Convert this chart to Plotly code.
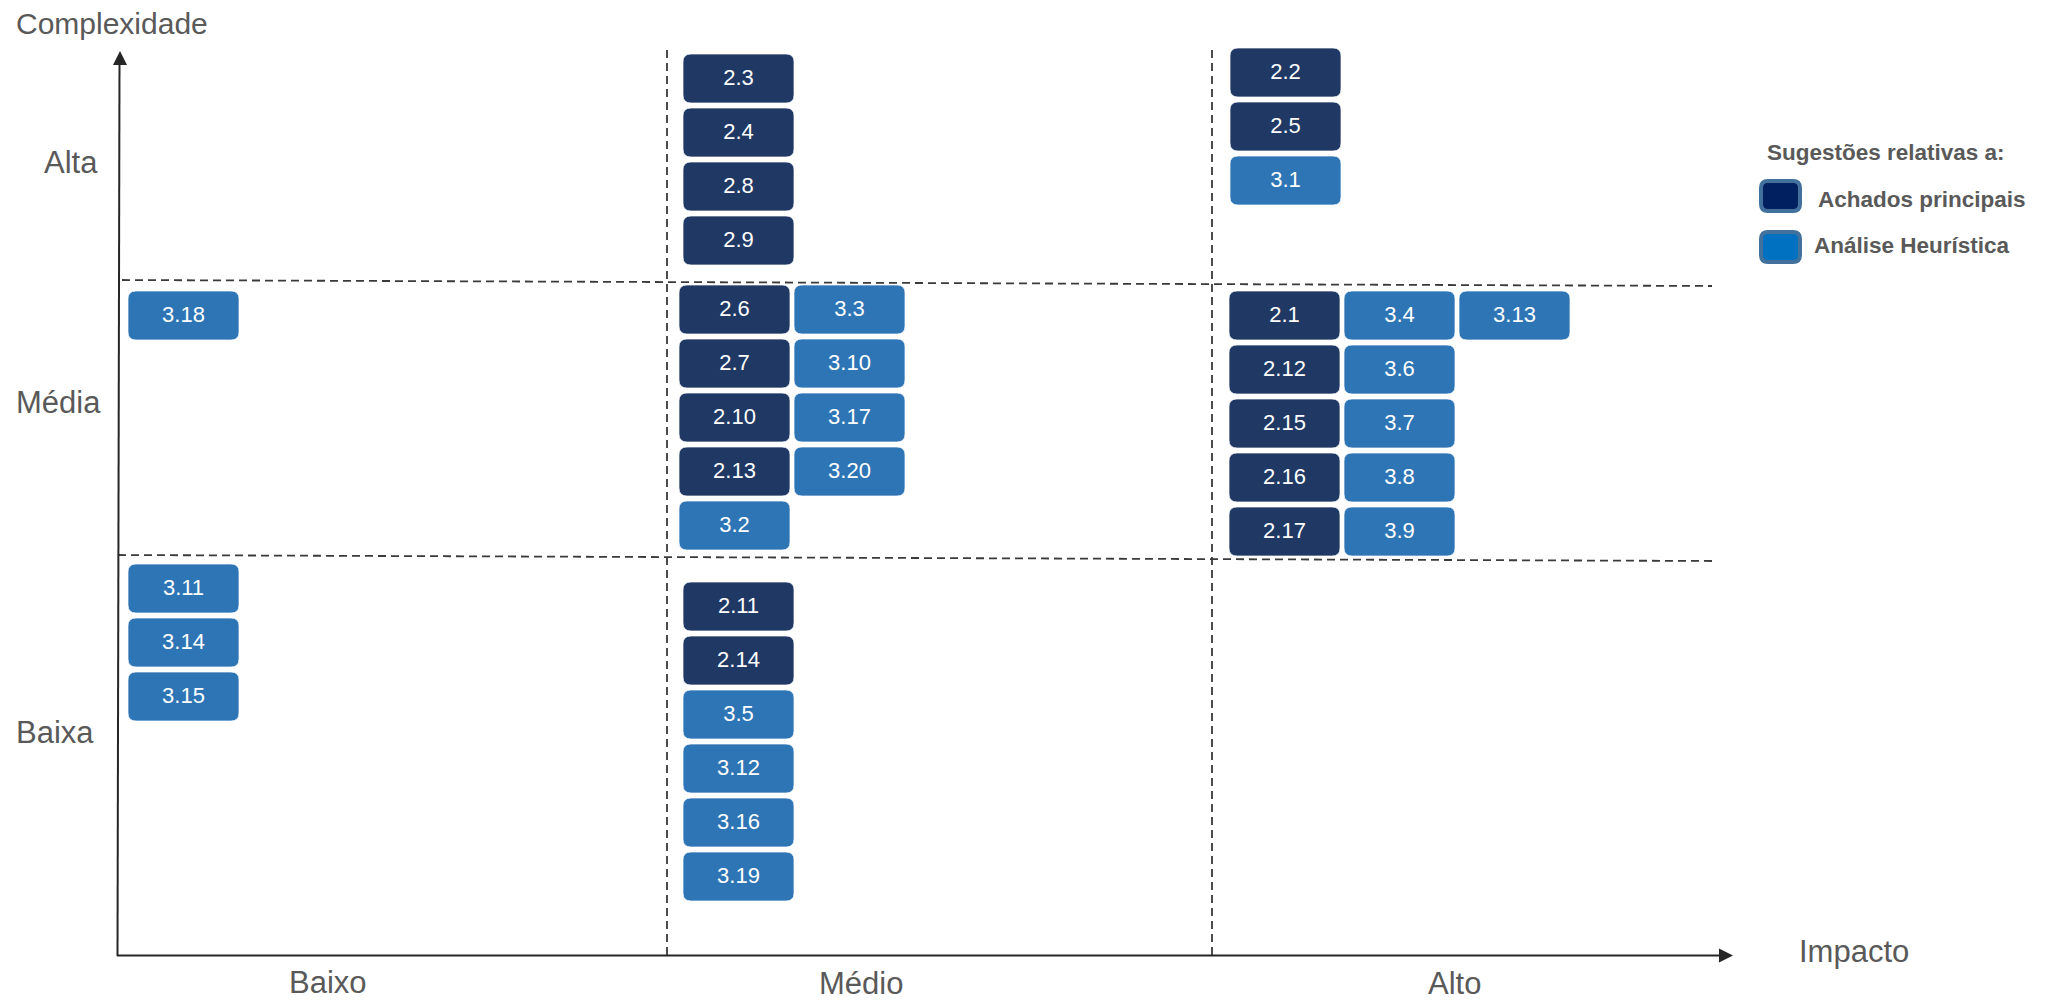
import plotly.graph_objects as go
from collections import defaultdict

# ---------------- data ----------------
sugestoes = ["2.1", "2.2", "2.3", "2.4", "2.5", "2.6", "2.7", "2.8", "2.9", "2.10",
             "2.11", "2.12", "2.13", "2.14", "2.15", "2.16", "2.17",
             "3.1", "3.2", "3.3", "3.4", "3.5", "3.6", "3.7", "3.8", "3.9", "3.10",
             "3.11", "3.12", "3.13", "3.14", "3.15", "3.16", "3.17", "3.18", "3.19", "3.20"]
impacto = ["Alto", "Alto", "Médio", "Médio", "Alto", "Médio", "Médio", "Médio", "Médio", "Médio",
           "Médio", "Alto", "Médio", "Médio", "Alto", "Alto", "Alto",
           "Alto", "Médio", "Médio", "Alto", "Médio", "Alto", "Alto", "Alto", "Alto", "Médio",
           "Baixo", "Médio", "Alto", "Baixo", "Baixo", "Médio", "Médio", "Baixo", "Médio", "Médio"]
complexidade = ["Média", "Alta", "Alta", "Alta", "Alta", "Média", "Média", "Alta", "Alta", "Média",
                "Baixa", "Média", "Média", "Baixa", "Média", "Média", "Média",
                "Alta", "Média", "Média", "Média", "Baixa", "Média", "Média", "Média", "Média", "Média",
                "Baixa", "Baixa", "Média", "Baixa", "Baixa", "Baixa", "Média", "Média", "Baixa", "Média"]
grupos = ["Achados principais" if s.startswith("2.") else "Análise Heurística" for s in sugestoes]

niveis_impacto = ["Baixo", "Médio", "Alto"]
niveis_complexidade = ["Alta", "Média", "Baixa"]
titulo_legenda = "Sugestões relativas a:"
nomes_grupos = ["Achados principais", "Análise Heurística"]

# ---------------- layout constants (pixel units of the figure) ----------------
W, H = 2051, 1005
FONT = "Liberation Sans, Arial, sans-serif"
GRAY = "#595959"
AXIS = "#262626"
DASH = "#3a3a3a"
cores = {"Achados principais": "#1F3864", "Análise Heurística": "#2E75B6"}
cores_leg = {"Achados principais": "#002060", "Análise Heurística": "#0070C0"}

cell_x = {"Baixo": (118, 667), "Médio": (667, 1212), "Alto": (1212, 1720)}
cell_y = {"Alta": (45, 281), "Média": (281, 557), "Baixa": (557, 956)}
BOX_W, BOX_H = 111, 49
PITCH_X, PITCH_Y = 115, 54
PAD_X, PAD_Y = 13, 8
R = 8
# small per-cell placement tweaks (dx, dy) in pixels
ajuste = {("Baixo", "Média"): (-3, 2), ("Baixo", "Baixa"): (-3, -1),
          ("Médio", "Alta"): (3, 1), ("Médio", "Média"): (-1, -4), ("Médio", "Baixa"): (3, 17),
          ("Alto", "Alta"): (5, -5), ("Alto", "Média"): (4, 2)}


def rrect(x0, y0, x1, y1, r):
    return (f"M {x0+r},{y0} L {x1-r},{y0} Q {x1},{y0} {x1},{y0+r} "
            f"L {x1},{y1-r} Q {x1},{y1} {x1-r},{y1} L {x0+r},{y1} "
            f"Q {x0},{y1} {x0},{y1-r} L {x0},{y0+r} Q {x0},{y0} {x0+r},{y0} Z")


shapes = []
cx, cy = [], []
counter = defaultdict(int)
for s, i, c, g in zip(sugestoes, impacto, complexidade, grupos):
    k = counter[(i, c)]
    counter[(i, c)] += 1
    cap = int((cell_y[c][1] - cell_y[c][0]) // PITCH_Y)
    col, row = divmod(k, cap)
    dx, dy = ajuste.get((i, c), (0, 0))
    x0 = cell_x[i][0] + PAD_X + col * PITCH_X + dx
    y0 = cell_y[c][0] + PAD_Y + row * PITCH_Y + dy
    shapes.append(dict(type="path", path=rrect(x0, y0, x0 + BOX_W, y0 + BOX_H, R),
                       xref="x", yref="y", fillcolor=cores[g],
                       line=dict(color="rgba(255,255,255,0.7)", width=1), layer="below"))
    cx.append(x0 + BOX_W / 2)
    cy.append(y0 + BOX_H / 2 + 1)

# dashed quadrant lines
for xv in (cell_x["Médio"][0], cell_x["Alto"][0]):
    shapes.append(dict(type="line", xref="x", yref="y", x0=xv, x1=xv, y0=50, y1=956,
                       line=dict(color=DASH, width=1.8, dash="8px,5px"), layer="below"))
shapes.append(dict(type="line", xref="x", yref="y", x0=122, y0=280, x1=1712, y1=286,
                   line=dict(color=DASH, width=1.8, dash="8px,5px"), layer="below"))
shapes.append(dict(type="line", xref="x", yref="y", x0=118, y0=555, x1=1712, y1=561,
                   line=dict(color=DASH, width=1.8, dash="8px,5px"), layer="below"))

# axes with arrows
shapes.append(dict(type="line", xref="x", yref="y", x0=117.5, y0=956, x1=119.5, y1=62,
                   line=dict(color=AXIS, width=2)))
shapes.append(dict(type="path", xref="x", yref="y",
                   path="M 120,51 L 127,65 L 113,65 Z", fillcolor=AXIS, line=dict(width=0)))
shapes.append(dict(type="line", xref="x", yref="y", x0=117, y0=955.5, x1=1721, y1=955.5,
                   line=dict(color=AXIS, width=2)))
shapes.append(dict(type="path", xref="x", yref="y",
                   path="M 1733,955.5 L 1719,948.5 L 1719,962.5 Z", fillcolor=AXIS, line=dict(width=0)))

# legend swatches
leg_y = [196, 247]
for nome, yc in zip(nomes_grupos, leg_y):
    shapes.append(dict(type="path", xref="x", yref="y",
                       path=rrect(1761, yc - 15, 1800, yc + 15, 7),
                       fillcolor=cores_leg[nome], line=dict(color="#41719C", width=4)))

annotations = []


def txt(x, y, t, size, xanchor="left", bold=False, color=GRAY):
    annotations.append(dict(x=x, y=y, xref="x", yref="y", text=f"<b>{t}</b>" if bold else t,
                            showarrow=False, xanchor=xanchor, yanchor="middle",
                            font=dict(family=FONT, size=size, color=color)))


txt(14, 23, "Complexidade", 30)
txt(1797, 951, "Impacto", 31)
y_lab = {"Alta": (42, 162), "Média": (14, 402), "Baixa": (14, 732)}
for n in niveis_complexidade:
    txt(y_lab[n][0], y_lab[n][1], n, 31)
x_lab = {"Baixo": (328, 982), "Médio": (861, 983), "Alto": (1454, 983)}
for n in niveis_impacto:
    txt(x_lab[n][0], x_lab[n][1], n, 31, xanchor="center")

txt(1765, 152, titulo_legenda, 22.5, bold=True)
txt(1816, 199, nomes_grupos[0], 22.5, bold=True)
txt(1812, 245, nomes_grupos[1], 22.5, bold=True)

fig = go.Figure()
fig.add_trace(go.Scatter(x=cx, y=cy, mode="text", text=sugestoes,
                         textfont=dict(family=FONT, size=22, color="white"),
                         hovertext=[f"{s}: {g} | Impacto {i} | Complexidade {c}"
                                    for s, g, i, c in zip(sugestoes, grupos, impacto, complexidade)],
                         hoverinfo="text", showlegend=False))

fig.update_layout(
    width=W, height=H, margin=dict(l=0, r=0, t=0, b=0),
    paper_bgcolor="white", plot_bgcolor="white",
    xaxis=dict(range=[0, W], visible=False, fixedrange=True),
    yaxis=dict(range=[H, 0], visible=False, fixedrange=True),
    shapes=shapes, annotations=annotations, showlegend=False,
)

fig.write_html("out.html", config={"displayModeBar": False})
